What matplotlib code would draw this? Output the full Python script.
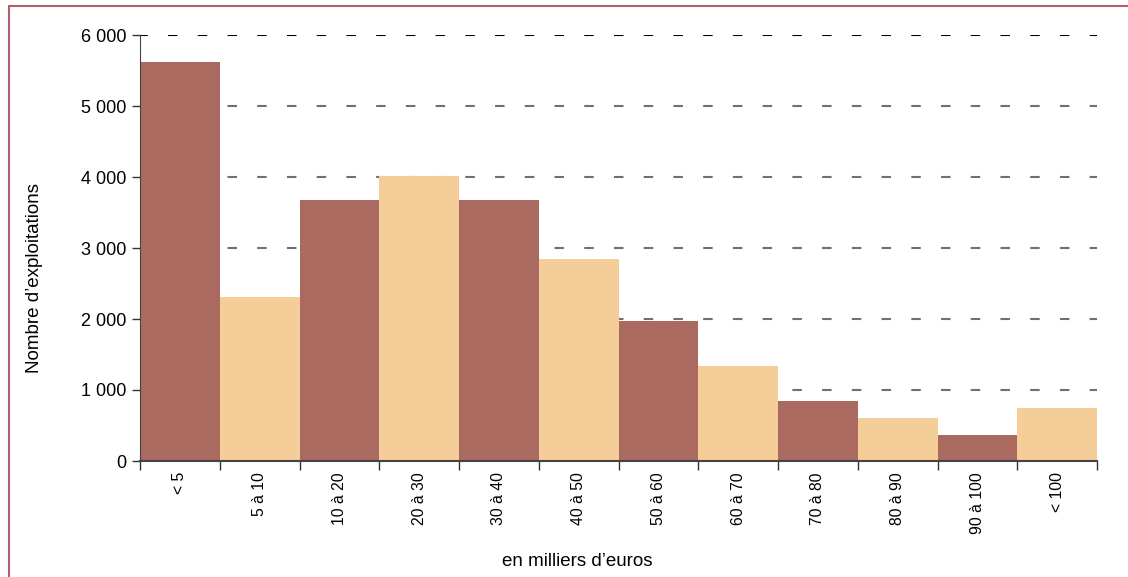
import matplotlib
matplotlib.use("Agg")
from matplotlib import pyplot as plt
from matplotlib.patches import Rectangle
import numpy as np

classes = ["< 5", "5 à 10", "10 à 20", "20 à 30", "30 à 40", "40 à 50",
           "50 à 60", "60 à 70", "70 à 80", "80 à 90", "90 à 100", "< 100"]
nb_exploitations = [5620, 2310, 3680, 4015, 3680, 2845, 1970, 1340, 845, 605, 365, 745]
yticks = [0, 1000, 2000, 3000, 4000, 5000, 6000]
ytick_labels = ["0", "1 000", "2 000", "3 000", "4 000", "5 000", "6 000"]

brun = "#AB6A5F"
beige = "#F5CD98"

plt.rcParams["font.family"] = ["Liberation Sans", "DejaVu Sans"]

fig = plt.figure(figsize=(11.28, 5.77), dpi=100)
ax = fig.add_axes([140/1128, 1 - 461/577, (1097-140)/1128, (461-35)/577])

x = np.arange(len(classes))
couleurs = [brun if i % 2 == 0 else beige for i in range(len(classes))]
ax.bar(x + 0.5, nb_exploitations, width=1.0, color=couleurs, zorder=2)

# grille en tirets (la ligne du haut en noir)
lw = 1.5
u = lw * 100 / 72  # pixels par unité de tiret
for v in yticks[1:]:
    c = "black" if v == 6000 else "#707070"
    ax.axhline(v, color=c, linewidth=lw, linestyle=(1.7 / u, (9.5 / u, 20.23 / u)), zorder=1)

ax.set_xlim(0, len(classes))
ax.set_ylim(0, 6000)
ax.set_yticks(yticks)
ax.set_yticklabels(ytick_labels, fontsize=13)

# ticks aux bords des barres, labels au centre
ax.set_xticks(np.arange(len(classes) + 1))
ax.set_xticklabels([])
ax.set_xticks(x + 0.5, minor=True)
ax.set_xticklabels(classes, minor=True, rotation=90, fontsize=11.3)
ax.tick_params(axis="x", which="minor", length=0, pad=8)
ax.tick_params(axis="x", which="major", length=6.5, width=1, color="#333333")
ax.tick_params(axis="y", length=6, width=1, color="#333333", pad=4)

for s in ["top", "right"]:
    ax.spines[s].set_visible(False)
ax.spines["left"].set_color("#444444")
ax.spines["bottom"].set_color("#444444")
ax.spines["bottom"].set_linewidth(1.5)

fig.text(35/1128, 1 - 278/577, "Nombre d’exploitations", rotation=90,
         ha="center", va="center", fontsize=13.5)
fig.text(577/1128, 1 - 561/577, "en milliers d’euros",
         ha="center", va="center", fontsize=13.5)

# cadre autour du graphique (coupé à droite et en bas)
fig.patches.append(Rectangle((9/1128, -0.1), 1.2, 1 - 6/577 + 0.1,
                             transform=fig.transFigure, fill=False,
                             edgecolor="#B0606C", linewidth=1.5))

plt.savefig("out.png", dpi=100)
